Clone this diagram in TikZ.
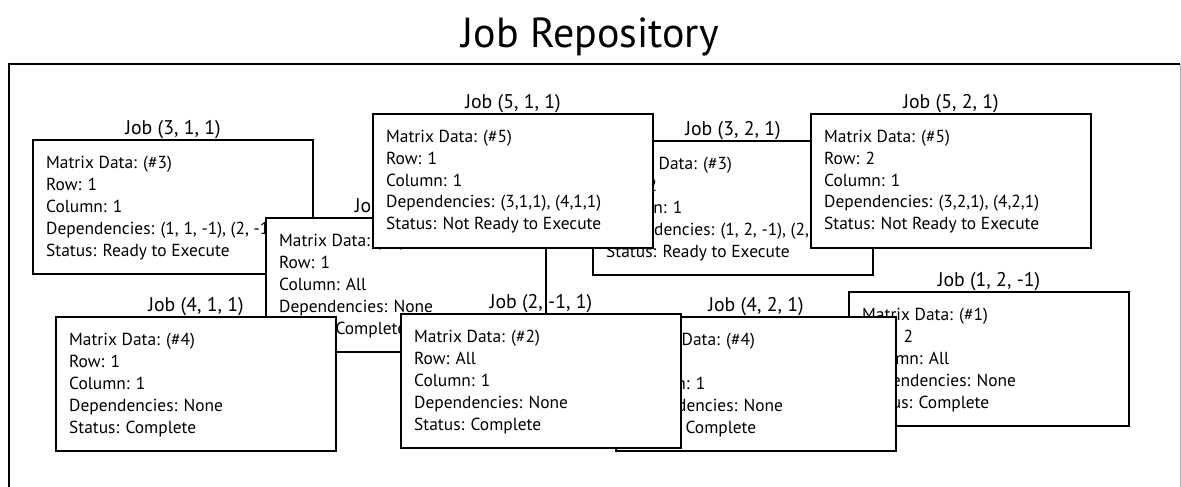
\documentclass[tikz,border=0pt]{standalone}
\usepackage{fontspec}
\setmainfont{PT Sans}
\tikzset{
  card/.style={draw=black, fill=white, line width=2.4pt, minimum width=280pt,
    minimum height=134pt, inner sep=0pt, outer sep=0pt, anchor=north west},
  cardlabel/.style={inner sep=0pt, anchor=base, font=\fontsize{19.8pt}{23pt}\selectfont},
  cardtext/.style={inner sep=0pt, anchor=base west, font=\fontsize{17.4pt}{22pt}\selectfont},
  frameline/.style={line width=2.6pt, black},
}
% #1 name, #2 left, #3 top, #4 heading, #5 body lines
\newcommand\jobcard[5]{%
  \node[card] (#1) at (#2,#3) {};
  \node[cardlabel] (#1-label) at ([yshift=6pt]#1.north) {#4};
  \node[cardtext] (#1-text) at ([xshift=13pt,yshift=-28pt]#1.north west)
    {\parbox[t]{266pt}{#5}};
}
\begin{document}
\begin{tikzpicture}[x=1pt,y=-1pt]
\useasboundingbox (0,0) rectangle (1181,487);
\node[inner sep=0pt, anchor=base, font=\fontsize{42pt}{48pt}\selectfont] (title) at (590,48) {Job Repository};
\coordinate (fbl) at (9,487);
\coordinate (ftl) at (9,64);
\coordinate (ftr) at (1180,64);
\coordinate (fbr) at (1180,487);
\draw[frameline] (fbl) -- (ftl) -- (ftr);
\draw[black!30, line width=1pt] (ftr) -- (fbr);

\jobcard{job311}{33}{140}{Job (3, 1, 1)}{Matrix Data: (\#3)\\Row: 1\\Column: 1\\Dependencies: (1, 1, -1), (2, -1, 1)\\Status: Ready to Execute}
\jobcard{job11m1}{266}{218}{Job (1, 1, -1)}{Matrix Data: (\#1)\\Row: 1\\Column: All\\Dependencies: None\\Status: Complete}
\jobcard{job321}{593}{141}{Job (3, 2, 1)}{Matrix Data: (\#3)\\Row: 2\\Column: 1\\Dependencies: (1, 2, -1), (2, -1, 1)\\Status: Ready to Execute}
\jobcard{job511}{373}{114}{Job (5, 1, 1)}{Matrix Data: (\#5)\\Row: 1\\Column: 1\\Dependencies: (3,1,1), (4,1,1)\\Status: Not Ready to Execute}
\jobcard{job521}{811}{114}{Job (5, 2, 1)}{Matrix Data: (\#5)\\Row: 2\\Column: 1\\Dependencies: (3,2,1), (4,2,1)\\Status: Not Ready to Execute}
\jobcard{job12m1}{849}{292}{Job (1, 2, -1)}{Matrix Data: (\#1)\\Row: 2\\Column: All\\Dependencies: None\\Status: Complete}
\jobcard{job421}{616}{317}{Job (4, 2, 1)}{Matrix Data: (\#4)\\Row: 2\\Column: 1\\Dependencies: None\\Status: Complete}
\jobcard{job2m11}{401}{314}{Job (2, -1, 1)}{Matrix Data: (\#2)\\Row: All\\Column: 1\\Dependencies: None\\Status: Complete}
\jobcard{job411}{56}{317}{Job (4, 1, 1)}{Matrix Data: (\#4)\\Row: 1\\Column: 1\\Dependencies: None\\Status: Complete}
\end{tikzpicture}
\end{document}
